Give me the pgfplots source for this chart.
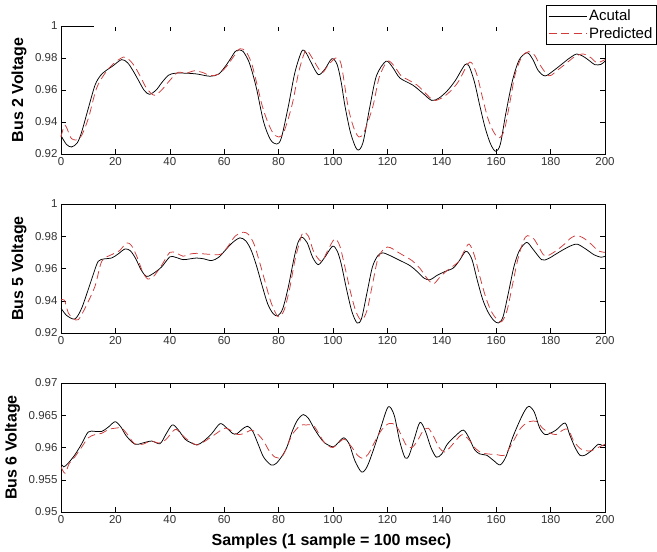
\documentclass[border=0pt]{standalone}
\usepackage{pgfplots}
\pgfplotsset{compat=1.18}
\usepackage{fontspec}
\setmainfont{Liberation Sans}
\definecolor{predred}{RGB}{208,58,58}

\pgfplotstableread{
x y
0 0.9315
2 0.926
3.9 0.9244
6 0.927
7.6 0.9338
10 0.9483
12.5 0.963
14.5 0.969
16.2 0.9717
19 0.975
22.3 0.979
24.5 0.977
26.5 0.972
28.5 0.966
30.5 0.960
32.5 0.9573
35 0.960
37 0.9645
39.5 0.9692
42 0.9705
46 0.9705
50 0.970
54.8 0.9686
58 0.970
60.5 0.975
62.5 0.980
64 0.984
65.5 0.985
67 0.984
69 0.978
70.5 0.970
72 0.960
74.5 0.940
77 0.929
79.3 0.9262
81 0.930
83.6 0.950
86 0.971
88.5 0.9842
90 0.9835
92 0.977
94.6 0.9696
97 0.973
99.6 0.9796
101.5 0.976
103 0.965
104.4 0.950
106.5 0.933
108.9 0.9227
111 0.927
113.6 0.950
116 0.969
119.5 0.978
122 0.974
124.6 0.9675
129.4 0.963
133 0.958
136.3 0.9535
139 0.955
142 0.9595
145 0.966
148.5 0.9758
150 0.975
152 0.965
154 0.950
156 0.936
158 0.926
159.8 0.9217
161.5 0.926
163.5 0.945
166 0.966
168.5 0.979
171.4 0.9833
173.5 0.979
175.5 0.972
178 0.9688
181 0.972
184 0.976
187 0.980
189.6 0.9825
192 0.981
194.5 0.978
196.3 0.9758
198.5 0.976
200 0.978
}\busAact

\pgfplotstableread{
x y
0 0.9306
1.5 0.938
3.9 0.9296
7 0.930
10 0.942
13 0.9608
16 0.970
19 0.976
22.9 0.9806
25 0.979
27 0.975
29 0.969
31.5 0.961
34.3 0.9567
37 0.960
40 0.966
43 0.971
46 0.9705
49 0.972
52 0.971
55 0.969
58 0.970
61 0.975
63.5 0.981
65.8 0.9858
68 0.984
70 0.977
72 0.964
74 0.950
76 0.940
78 0.933
80.1 0.9306
82 0.934
85 0.951
87.5 0.972
90 0.9848
92 0.981
95.8 0.971
98 0.975
101 0.980
103 0.976
105.5 0.950
107.5 0.937
109.5 0.9306
111.5 0.934
114.7 0.950
117 0.968
120 0.978
122.5 0.975
125 0.969
128 0.966
131 0.963
134 0.958
137 0.9535
140 0.955
143 0.959
146 0.965
149.5 0.976
151 0.977
153 0.969
155 0.955
157 0.942
159 0.934
161 0.930
163 0.935
165 0.952
167 0.970
169.5 0.981
172 0.984
174 0.982
176 0.976
178.5 0.970
180 0.969
183 0.973
186 0.977
189 0.981
192 0.9825
195 0.980
197 0.977
200 0.979
}\busApred

\pgfplotstableread{
x y
0 0.9355
2 0.931
5.1 0.9287
7.5 0.935
10 0.9469
12 0.957
13.7 0.9645
16 0.966
18.6 0.9665
21 0.969
23.5 0.9721
25.5 0.971
27.5 0.966
29.5 0.959
31.5 0.9551
34 0.957
37 0.961
40 0.9672
42 0.967
44.9 0.9655
47.5 0.966
49.8 0.9665
52.5 0.966
55.4 0.9649
58 0.967
60.5 0.9715
63 0.976
65.8 0.979
68 0.977
70 0.971
72 0.961
74 0.949
76 0.938
78 0.932
79.7 0.9307
81.5 0.935
83.5 0.948
85.5 0.965
87 0.9755
88.5 0.9794
90.5 0.976
92.5 0.967
94.6 0.9624
97 0.967
99.8 0.9738
101.5 0.971
103 0.963
105 0.947
107 0.933
108.9 0.9262
110.5 0.929
112.5 0.945
114.5 0.961
116.5 0.968
118.3 0.9697
121 0.968
124 0.9655
128.3 0.9618
131 0.958
133.5 0.954
135.7 0.953
138 0.9555
141 0.958
144.2 0.9603
146.5 0.965
148.9 0.9707
151 0.966
153 0.953
155 0.941
157 0.933
159 0.928
160.8 0.9262
162.5 0.930
164.5 0.945
166.5 0.961
168.5 0.971
171.2 0.9762
173.5 0.972
176.7 0.9655
179 0.966
182 0.969
185 0.972
188 0.9745
190 0.975
193 0.972
196 0.9685
198.5 0.967
200 0.9676
}\busBact

\pgfplotstableread{
x y
0 0.9405
1.3 0.9403
2.7 0.9324
4.5 0.929
6.4 0.9283
9 0.936
12.5 0.949
15 0.9645
18.6 0.9686
21.5 0.971
24.1 0.9759
26 0.974
28 0.967
30 0.958
31.9 0.9535
34 0.955
37 0.962
40 0.970
42.5 0.9695
44.9 0.9676
47.5 0.969
49.8 0.9694
53 0.969
56.6 0.9686
59 0.969
61.5 0.974
64 0.980
67 0.9825
69 0.981
71 0.975
73 0.964
75 0.952
77 0.940
79 0.932
80.1 0.930
82 0.934
84 0.947
86 0.965
88 0.978
89.1 0.9825
91 0.980
93 0.970
95.8 0.9645
98 0.971
100.6 0.9783
102.5 0.974
104.5 0.960
106.5 0.945
108.5 0.933
110.5 0.928
112.5 0.934
114.5 0.950
116.5 0.966
119 0.9727
121 0.973
123 0.971
126 0.968
129 0.965
132 0.960
135 0.953
137 0.9505
139.5 0.955
142.5 0.9595
146 0.964
148 0.970
150 0.9752
152 0.968
154 0.955
156 0.943
158 0.934
160 0.929
162 0.927
164 0.934
166 0.950
168 0.966
170 0.977
171.5 0.9804
174 0.978
177.3 0.9686
179 0.968
182 0.971
185 0.975
187.5 0.979
189.6 0.9804
192 0.979
195 0.975
197.5 0.971
200 0.970
}\busBpred

\pgfplotstableread{
x y
0 0.9575
1 0.957
2.5 0.9575
5 0.9588
7.5 0.9605
10 0.9624
12.5 0.9625
15 0.9625
17.5 0.9632
19.9 0.964
22 0.9632
24 0.9618
27.2 0.9605
30 0.9607
33.3 0.961
36.4 0.9606
38.5 0.962
40.9 0.9635
43 0.9628
45.6 0.9613
47.5 0.9608
49.9 0.9604
52.5 0.961
55.5 0.9622
58.5 0.9637
61 0.963
63 0.9622
64.6 0.9621
66.5 0.9628
68.6 0.9633
70.5 0.9625
72.5 0.9605
74.5 0.9585
77.2 0.9573
79 0.9575
81 0.9585
83 0.960
85 0.9625
87 0.9643
89.1 0.9651
91 0.9645
93 0.963
95 0.9617
97 0.9607
100.1 0.9601
102 0.9608
104 0.9615
106 0.9605
108 0.958
110.5 0.9562
112.5 0.957
115 0.9598
117.5 0.963
120.3 0.9663
122.5 0.965
124.5 0.961
126.5 0.9584
128 0.9588
130 0.9615
132 0.9639
134 0.9625
136 0.960
138 0.9585
140 0.959
142 0.9605
145 0.9618
147.9 0.9627
150 0.9615
152 0.9597
154 0.959
156.5 0.9588
159 0.958
161.4 0.9573
163.5 0.9585
166 0.9615
168.5 0.964
170.5 0.9657
172 0.9664
174 0.9655
176 0.963
178 0.962
179.8 0.9622
182 0.9627
185.3 0.9638
187 0.962
189 0.960
190.8 0.9588
192.6 0.9588
195 0.9595
197.5 0.9605
199 0.9603
200 0.9603
}\busCact

\pgfplotstableread{
x y
0 0.957
1.5 0.956
3 0.9575
5 0.9585
7.5 0.960
10 0.9615
12.5 0.962
15 0.9622
17.5 0.9628
20 0.963
22.3 0.963
24.5 0.962
27 0.9606
30 0.9605
33 0.961
36 0.9607
38.5 0.9612
41.9 0.9628
44 0.9622
46.5 0.9612
50 0.9604
53 0.961
56.5 0.962
60.3 0.963
63 0.9625
65 0.962
67.5 0.9622
70.1 0.9627
72.5 0.962
74.5 0.961
76.5 0.9595
78.7 0.9585
81.1 0.9585
83 0.960
85 0.962
87.9 0.9634
90 0.9635
92.8 0.9634
95 0.962
97 0.9607
100 0.960
104 0.9613
107 0.960
109 0.9588
111 0.9583
113 0.959
115.5 0.961
118 0.9628
120.5 0.9637
123 0.9635
125 0.962
127 0.9603
129 0.960
131 0.961
133 0.9625
135 0.963
137 0.9617
139 0.960
141 0.9593
143 0.960
145 0.961
147.5 0.962
150 0.9612
152 0.960
154.5 0.9592
157 0.959
160 0.9589
163 0.9588
165 0.960
167 0.9615
169 0.963
172 0.964
175 0.964
177 0.963
179.5 0.9623
182 0.962
184.5 0.9627
186.5 0.9628
188.5 0.961
191 0.9598
193 0.9595
195 0.9595
197.5 0.960
200 0.9605
}\busCpred

\pgfplotsset{
  panel/.style={
    scale only axis, width=544pt, xmin=0, xmax=200,
    xtick={0,20,40,60,80,100,120,140,160,180,200},
    xticklabels={0,20,40,60,80,100,120,140,160,180,200},
    tick align=inside, major tick length=5pt,
    tick style={black, line width=0.5pt},
    axis line style={black, line width=0.6pt},
    ticklabel style={font=\fontsize{11.5}{13}\selectfont, text=black!80},
    ylabel style={font=\fontsize{16}{18}\selectfont\bfseries, anchor=center},
    legend image code/.code={\draw[##1] (0pt,0pt) -- (38pt,0pt);},
  },
  act/.style={black, line width=0.75pt, smooth},
  pred/.style={predred, line width=0.75pt, smooth, dash pattern=on 8pt off 4.5pt},
}

\begin{document}
\begin{tikzpicture}
\path[use as bounding box] (0pt,0pt) rectangle (657pt,-552pt);

\begin{axis}[panel, at={(61pt,-154pt)}, anchor=south west, height=128pt,
  ymin=0.92, ymax=1, ytick={0.92,0.94,0.96,0.98,1},
  yticklabels={0.92,0.94,0.96,0.98,1},
  ylabel={Bus 2 Voltage},
  ylabel style={at={(axis description cs:-0.0772,0.5)}},
  clip=false,
  legend style={at={(axis description cs:0.8915,1.164)}, anchor=north west,
    draw=black, line width=0.6pt, fill=white, font=\fontsize{15}{17}\selectfont,
    inner xsep=2pt, inner ysep=2.5pt, row sep=1pt, cells={anchor=west}},
  ]
\addplot[act] table {\busAact};
\addlegendentry{Acutal}
\addplot[pred] table {\busApred};
\addlegendentry{Predicted}
\draw[white, line width=1.4pt] (axis cs:12.2,1) -- (axis cs:199.7,1);
\end{axis}

\begin{axis}[panel, at={(61pt,-333pt)}, anchor=south west, height=129pt,
  ymin=0.92, ymax=1, ytick={0.92,0.94,0.96,0.98,1},
  yticklabels={0.92,0.94,0.96,0.98,1},
  ylabel={Bus 5 Voltage},
  ylabel style={at={(axis description cs:-0.0772,0.5)}},
  ]
\addplot[act] table {\busBact};
\addplot[pred] table {\busBpred};
\end{axis}

\begin{axis}[panel, at={(61pt,-512pt)}, anchor=south west, height=129pt,
  ymin=0.95, ymax=0.97, ytick={0.95,0.955,0.96,0.965,0.97},
  yticklabels={0.95,0.955,0.96,0.965,0.97},
  ylabel={Bus 6 Voltage},
  ylabel style={at={(axis description cs:-0.0892,0.5)}},
  xlabel={Samples (1 sample = 100 msec)},
  xlabel style={font=\fontsize{16}{18}\selectfont\bfseries, at={(axis description cs:0.4972,-0.256)}, anchor=base},
  ]
\addplot[act] table {\busCact};
\addplot[pred] table {\busCpred};
\end{axis}
\end{tikzpicture}
\end{document}
